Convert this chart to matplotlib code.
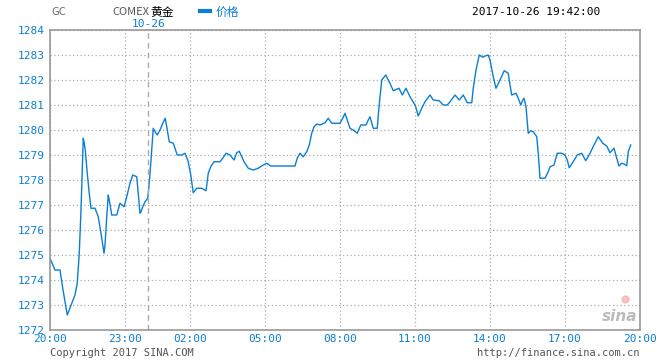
import matplotlib.pyplot as plt
from matplotlib.ticker import FixedLocator

# x is a session index in hours (night break squeezed), y is price
x_vals = [0, 0.2, 0.4, 0.5, 0.69, 0.87, 1.0, 1.09, 1.17, 1.23, 1.27, 1.33, 1.37,
          1.41, 1.49, 1.57, 1.64, 1.8, 1.93, 2.04, 2.16, 2.2, 2.27, 2.33, 2.37,
          2.47, 2.67, 2.8, 2.96, 3.07, 3.2, 3.31, 3.47, 3.53, 3.6, 3.64, 3.71,
          3.8, 3.91, 3.97, 4.04, 4.13, 4.2, 4.29, 4.4, 4.51, 4.61, 4.67, 4.77,
          4.93, 5.09, 5.27, 5.4, 5.53, 5.63, 5.73, 5.87, 6.07, 6.24, 6.33, 6.43,
          6.56, 6.8, 6.91, 7.04, 7.2, 7.36, 7.47, 7.57,
          7.76, 7.93, 8.13, 8.33, 8.53, 8.67, 8.83, 9.2, 9.8, 9.89, 10.0, 10.13,
          10.27, 10.37, 10.47, 10.56, 10.67, 10.8, 11.0, 11.13, 11.27, 11.6,
          11.71, 11.8, 11.89, 12.0, 12.13, 12.29, 12.43, 12.64, 12.73, 12.8,
          12.93, 13.09, 13.15, 13.2, 13.27, 13.36, 13.43, 13.53, 13.63, 13.73,
          13.87, 13.96, 14.09, 14.24, 14.4, 14.56, 14.63, 14.73, 14.87, 15.0,
          15.2, 15.33, 15.57,
          15.73, 15.89, 16.0, 16.2, 16.37, 16.53, 16.69, 16.87, 16.93, 17.04,
          17.17, 17.31, 17.4, 17.53, 17.6, 17.73, 17.84, 18.0, 18.17, 18.33,
          18.4, 18.47, 18.64, 18.73, 18.83, 18.91, 18.96, 19.04, 19.13, 19.23,
          19.33, 19.47, 19.53, 19.6, 19.8, 19.93, 20.0, 20.16, 20.29, 20.47,
          20.6, 20.69, 20.77, 20.93, 21.09, 21.27, 21.43, 21.6, 21.76, 21.93,
          22.11, 22.27, 22.4, 22.56, 22.67, 22.76, 22.87, 22.96, 23.07, 23.13,
          23.23]
prices = [1274.87, 1274.4, 1274.4, 1273.73, 1272.6, 1273.07, 1273.4, 1273.87,
          1275.07, 1276.53, 1277.73, 1279.67, 1279.47, 1279.2, 1278.27, 1277.47,
          1276.87, 1276.87, 1276.53, 1275.87, 1275.07, 1275.4, 1276.53, 1277.4,
          1277.2, 1276.6, 1276.6, 1277.07, 1276.93, 1277.33, 1277.87, 1278.2,
          1278.13, 1277.47, 1276.67, 1276.73, 1276.93, 1277.13, 1277.27,
          1277.87, 1278.8, 1280.07, 1279.93, 1279.8, 1280.0, 1280.27, 1280.47,
          1280.13, 1279.53, 1279.47, 1279.0, 1279.0, 1279.07, 1278.73, 1278.2,
          1277.49, 1277.67, 1277.67, 1277.57, 1278.27, 1278.53, 1278.73,
          1278.73, 1278.87, 1279.07, 1279.0, 1278.8, 1279.09, 1279.15,
          1278.73, 1278.47, 1278.4, 1278.47, 1278.6, 1278.67, 1278.56, 1278.56,
          1278.56, 1278.87, 1279.07, 1278.93, 1279.13, 1279.4, 1279.87, 1280.13,
          1280.24, 1280.2, 1280.29, 1280.47, 1280.27, 1280.27, 1280.47, 1280.67,
          1280.4, 1280.07, 1280.0, 1279.87, 1280.2, 1280.2, 1280.4, 1280.53,
          1280.07, 1280.07, 1280.8, 1281.33, 1282.0, 1282.11, 1282.2, 1282.0,
          1281.8, 1281.57, 1281.63, 1281.67, 1281.4, 1281.67, 1281.33, 1281.07,
          1280.93, 1280.56, 1280.87, 1281.13, 1281.4, 1281.2, 1281.17,
          1281.0, 1281.0, 1281.13, 1281.4, 1281.2, 1281.4, 1281.09, 1281.09,
          1281.67, 1282.4, 1283.0, 1282.91, 1282.96, 1283.0, 1282.8, 1282.13,
          1281.67, 1282.0, 1282.37, 1282.27, 1281.8, 1281.4, 1281.47, 1281.27,
          1281.0, 1281.2, 1281.27, 1280.93, 1279.87, 1279.97, 1279.93, 1279.73,
          1279.07, 1278.07, 1278.07, 1278.33, 1278.53, 1278.6, 1279.07, 1279.07,
          1279.0, 1278.8, 1278.49, 1278.73, 1279.0, 1279.07, 1278.77, 1279.07,
          1279.4, 1279.73, 1279.47, 1279.36, 1279.09, 1279.27, 1278.87,
          1278.56, 1278.67, 1278.64, 1278.57, 1279.13, 1279.4]

tick_pos = [0, 3, 5.6, 8.6, 11.6, 14.6, 17.6, 20.6, 23.6]
tick_labels = ['20:00', '23:00', '02:00', '05:00', '08:00', '11:00',
               '14:00', '17:00', '20:00']
y_ticks = list(range(1272, 1285))
day_break = 3.92

blue = '#0a7fd2'
gray = '#999999'
mono = 'DejaVu Sans Mono'
cjk = ['Noto Sans CJK SC', 'DejaVu Sans']

fig = plt.figure(figsize=(6.6, 3.6), dpi=100)
ax = fig.add_axes([50/660, 30/360, 590/660, 300/360])

ax.plot(x_vals, prices, color=blue, linewidth=1.0)

ax.set_xlim(0, 23.6)
ax.set_ylim(1272, 1284)
ax.xaxis.set_major_locator(FixedLocator(tick_pos))
ax.set_xticklabels(tick_labels)
ax.set_yticks(y_ticks)
ax.set_yticklabels([str(v) for v in y_ticks])

ax.grid(True, linestyle=(0, (1, 2)), color='#aaaaaa', linewidth=0.9)
ax.axvline(day_break, color='#aaaaaa', linestyle=(0, (4, 3)), linewidth=1.0)

for s in ax.spines.values():
    s.set_color(gray)
    s.set_linewidth(1.2)
ax.tick_params(length=0, colors=blue, labelsize=8)
ax.tick_params(axis='x', pad=3)
ax.tick_params(axis='y', pad=4)
for t in ax.get_xticklabels() + ax.get_yticklabels():
    t.set_family(mono)

# header texts
fig.text(51/660, 1 - 12/360, 'GC', color='#666666', fontsize=8,
         family=cjk, va='center')
fig.text(149/660, 1 - 12/360, 'COMEX', color='#555555', fontsize=8,
         family=cjk, va='center', ha='right')
fig.text(150/660, 1 - 12/360, '黄金', color='black', fontsize=8.5,
         family=cjk, va='center')
fig.add_artist(plt.Line2D([200/660, 210/660], [1 - 11/360, 1 - 11/360],
                          color=blue, linewidth=3))
fig.text(216/660, 1 - 12/360, '价格', color=blue, fontsize=8.5,
         family=cjk, va='center')
fig.text(600/660, 1 - 12/360, '2017-10-26 19:42:00', color='black',
         fontsize=8, family=mono, va='center', ha='right')
fig.text(149/660, 1 - 24/360, '10-26', color=blue, fontsize=8,
         family=mono, va='center', ha='center')

# footer
fig.text(50/660, 1 - 353/360, 'Copyright 2017 SINA.COM', color='#555555',
         fontsize=7.5, family=mono, va='center')
fig.text(640/660, 1 - 353/360, 'http://finance.sina.com.cn', color='#555555',
         fontsize=7.5, family=mono, va='center', ha='right')
ax.text(0.995, 0.02, 'sina', transform=ax.transAxes, color='#bbbbbb',
        fontsize=11, fontweight='bold', style='italic', ha='right', va='bottom')
ax.plot([0.975], [0.105], transform=ax.transAxes, marker='o', markersize=5,
        color='#f5b5b5', alpha=0.8)

fig.savefig('out.png', dpi=100)
